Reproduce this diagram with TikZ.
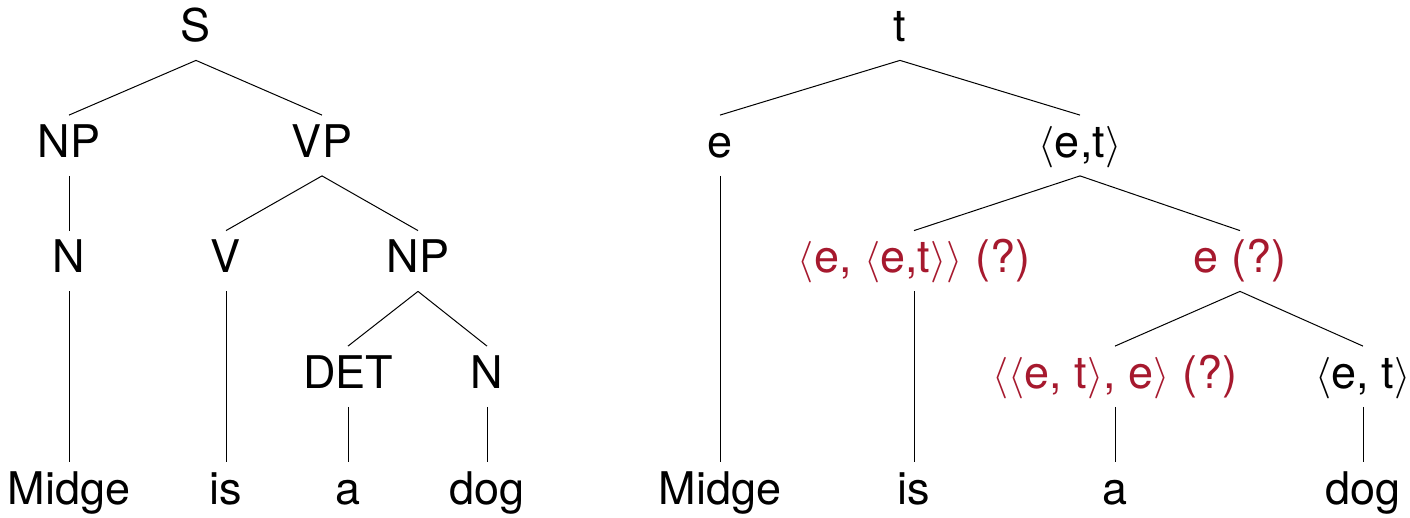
\documentclass[tikz,border=0pt]{standalone}
\usepackage{fontspec}
\setmainfont{TeX Gyre Heros}
\usepackage{tikz}
\usetikzlibrary{positioning}

\begin{document}
\begin{tikzpicture}[
    x=0.5pt, y=-0.5pt,
    every node/.style={font=\fontsize{22.5}{27}\selectfont},
    lbl/.style={anchor=base, text height=16.5pt, text depth=4.5pt, inner sep=4.5pt},
    guess/.style={lbl, text=typered},
    branch/.style={line width=0.5pt},
  ]
    \definecolor{typered}{HTML}{A6192E}
    \useasboundingbox (0,0) rectangle (1410,518);

    % -------- left tree: syntax --------
    \node[lbl] (S)     at (196,42)    {S};
    \node[lbl] (np)    at (69,157.5)  {NP};
    \node[lbl] (vp)    at (322,157.5) {VP};
    \node[lbl] (n)     at (69,273)    {N};
    \node[lbl] (v)     at (226,273)   {V};
    \node[lbl] (np2)   at (418,273)   {NP};
    \node[lbl] (det)   at (348,388.5) {DET};
    \node[lbl] (n2)    at (487,388.5) {N};
    \node[lbl] (midge) at (69,504)    {Midge};
    \node[lbl] (is)    at (226,504)   {is};
    \node[lbl] (a)     at (348,504)   {a};
    \node[lbl] (dog)   at (487,504)   {dog};

    \foreach \p/\c in {S/np, S/vp, np/n, n/midge, vp/v, vp/np2, v/is,
                       np2/det, np2/n2, det/a, n2/dog} {
      \draw[branch] (\p.south) -- (\c.north);
    }

    % -------- right tree: semantic types --------
    \node[lbl] (t)      at (900,42)     {t};
    \node[lbl] (e)      at (720,157.5)  {e};
    \node[lbl] (et)     at (1080,157.5) {$\langle$e,t$\rangle$};
    \node[guess] (eet)  at (914,273)    {$\langle$e, $\langle$e,t$\rangle\rangle$ (?)};
    \node[guess] (eq)   at (1240,273)   {e (?)};
    \node[guess] (eete) at (1115,388.5) {$\langle\langle$e, t$\rangle$, e$\rangle$ (?)};
    \node[lbl] (et2)    at (1363,388.5) {$\langle$e, t$\rangle$};
    \node[lbl] (rmidge) at (720,504)    {Midge};
    \node[lbl] (ris)    at (914,504)    {is};
    \node[lbl] (ra)     at (1115,504)   {a};
    \node[lbl] (rdog)   at (1363,504)   {dog};

    \foreach \p/\c in {t/e, t/et, e/rmidge, et/eet, et/eq, eet/ris,
                       eq/eete, eq/et2, eete/ra, et2/rdog} {
      \draw[branch] (\p.south) -- (\c.north);
    }
  \end{tikzpicture}
\end{document}
